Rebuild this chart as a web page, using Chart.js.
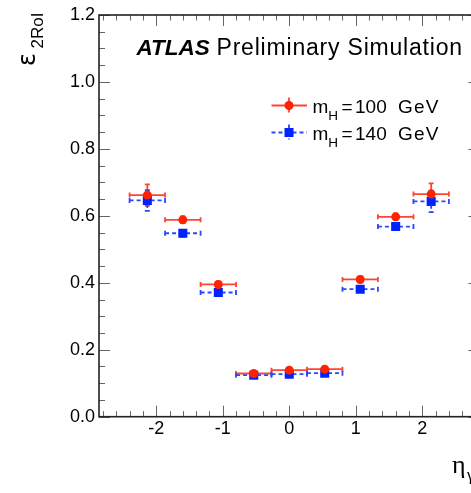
<!DOCTYPE html>
<html>
<head>
<meta charset="utf-8">
<script src="https://cdn.jsdelivr.net/npm/chart.js@4.4.1/dist/chart.umd.min.js"></script>
<style>
  html, body { margin: 0; padding: 0; background: #fff; overflow: hidden; }
  #wrap { position: absolute; left: 0; top: 0; width: 500px; height: 493px; }
</style>
</head>
<body>
<div id="wrap"><canvas id="effChart"></canvas></div>
<script>
// eta bins (edges) and trigger efficiencies
const etaEdges = [-2.4, -1.867, -1.333, -0.8, -0.267, 0.267, 0.8, 1.333, 1.867, 2.4];
const eff100 = [0.662, 0.588, 0.395, 0.129, 0.139, 0.142, 0.410, 0.597, 0.665];
const err100 = [0.032, 0.010, 0.009, 0.006, 0.006, 0.006, 0.009, 0.010, 0.032];
const eff140 = [0.646, 0.548, 0.371, 0.124, 0.127, 0.130, 0.381, 0.568, 0.643];
const err140 = [0.031, 0.010, 0.009, 0.006, 0.006, 0.006, 0.009, 0.010, 0.032];
const seriesNames = ['100 GeV', '140 GeV'];
const xTickValues = [-2, -1, 0, 1, 2];
const yTickValues = [0, 0.2, 0.4, 0.6, 0.8, 1.0, 1.2];

const FONT = '"Liberation Sans", Arial, sans-serif';
const RED = '#ff2200', RED_LINE = '#ff4433';
const BLUE = '#0022ff', BLUE_LINE = '#2a48ff';

const centers = etaEdges.slice(0, -1).map((e, i) => (e + etaEdges[i + 1]) / 2);
const toPoints = vals => vals.map((v, i) => ({ x: centers[i], y: v }));

// Fehlerbalken (ROOT-Stil) vor den Markern zeichnen
const errorBars = {
  id: 'errorBars',
  beforeDatasetsDraw(chart) {
    const ctx = chart.ctx;
    const xs = chart.scales.x, ys = chart.scales.y;
    const sets = [
      { vals: eff100, errs: err100, color: RED_LINE, dash: [] },
      { vals: eff140, errs: err140, color: BLUE_LINE, dash: [4, 3] }
    ];
    ctx.save();
    sets.forEach(s => {
      ctx.strokeStyle = s.color;
      ctx.lineWidth = 1.8;
      s.vals.forEach((v, i) => {
        const x0 = xs.getPixelForValue(etaEdges[i]);
        const x1 = xs.getPixelForValue(etaEdges[i + 1]);
        const xc = xs.getPixelForValue(centers[i]);
        const y = ys.getPixelForValue(v);
        const yHi = ys.getPixelForValue(v + s.errs[i]);
        const yLo = ys.getPixelForValue(v - s.errs[i]);
        ctx.setLineDash(s.dash);
        ctx.beginPath();
        ctx.moveTo(x0, y); ctx.lineTo(x1, y);
        ctx.moveTo(xc, yHi); ctx.lineTo(xc, yLo);
        ctx.stroke();
        ctx.setLineDash([]);
        ctx.beginPath();
        ctx.moveTo(x0, y - 2.5); ctx.lineTo(x0, y + 2.5);
        ctx.moveTo(x1, y - 2.5); ctx.lineTo(x1, y + 2.5);
        ctx.moveTo(xc - 2.5, yHi); ctx.lineTo(xc + 2.5, yHi);
        ctx.moveTo(xc - 2.5, yLo); ctx.lineTo(xc + 2.5, yLo);
        ctx.stroke();
      });
    });
    ctx.restore();
  }
};

// Rahmen, Ticks nach innen, Legende und Beschriftungen
const decorations = {
  id: 'decorations',
  afterDraw(chart) {
    const ctx = chart.ctx;
    const { left, right, top, bottom } = chart.chartArea;
    const xs = chart.scales.x, ys = chart.scales.y;
    ctx.save();

    ctx.strokeStyle = '#666';
    ctx.lineWidth = 1;
    ctx.beginPath();
    for (let i = -14; i <= 14; i++) {
      const px = Math.round(xs.getPixelForValue(i * 0.2)) + 0.5;
      const len = i % 5 === 0 ? 11 : 5.5;
      ctx.moveTo(px, bottom); ctx.lineTo(px, bottom - len);
      ctx.moveTo(px, top); ctx.lineTo(px, top + len);
    }
    for (let i = 0; i <= 24; i++) {
      const py = Math.round(ys.getPixelForValue(i * 0.05)) + 0.5;
      const len = i % 4 === 0 ? 11 : 6;
      ctx.moveTo(left, py); ctx.lineTo(left + len, py);
      ctx.moveTo(right, py); ctx.lineTo(right - len, py);
    }
    ctx.stroke();

    ctx.strokeStyle = '#222';
    ctx.lineWidth = 1.6;
    ctx.strokeRect(left, top, right - left, bottom - top);

    // Titel
    ctx.fillStyle = '#000';
    ctx.textBaseline = 'alphabetic';
    ctx.font = 'italic bold 22.5px ' + FONT;
    ctx.fillText('ATLAS', 136.5, 55);
    ctx.font = '23px ' + FONT;
    ctx.letterSpacing = '0.8px';
    ctx.fillText('Preliminary Simulation', 216.5, 55);
    ctx.letterSpacing = '0px';

    // Legende
    const rows = [
      { y: 105.5, color: RED, line: RED_LINE, dash: [], style: 'circle', name: seriesNames[0] },
      { y: 132.5, color: BLUE, line: BLUE_LINE, dash: [4, 3], style: 'rect', name: seriesNames[1] }
    ];
    rows.forEach(r => {
      ctx.strokeStyle = r.line;
      ctx.lineWidth = 1.8;
      ctx.setLineDash(r.dash);
      ctx.beginPath();
      ctx.moveTo(271.5, r.y); ctx.lineTo(307, r.y);
      ctx.moveTo(289, r.y - 8); ctx.lineTo(289, r.y + 7);
      ctx.stroke();
      ctx.setLineDash([]);
      ctx.fillStyle = r.color;
      ctx.beginPath();
      if (r.style === 'circle') ctx.arc(289, r.y, 4.5, 0, Math.PI * 2);
      else ctx.rect(284.5, r.y - 4.5, 9, 9);
      ctx.fill();

      const base = r.y + 7;
      ctx.fillStyle = '#000';
      ctx.font = '19px ' + FONT;
      ctx.fillText('m', 312.5, base);
      ctx.font = '13.5px ' + FONT;
      ctx.fillText('H', 328.3, base + 7.5);
      ctx.font = '19px ' + FONT;
      ctx.fillText('=', 341.5, base);
      const parts = r.name.split(' ');
      ctx.fillText(parts[0], 355, base);
      ctx.letterSpacing = '1.2px';
      ctx.fillText(parts[1], 398, base);
      ctx.letterSpacing = '0px';
    });

    // y-Achsentitel (gedreht)
    ctx.save();
    ctx.translate(35, 66);
    ctx.rotate(-Math.PI / 2);
    ctx.fillStyle = '#000';
    ctx.font = '24px "DejaVu Sans", sans-serif';
    ctx.fillText('ε', 0, 0);
    ctx.font = '17px ' + FONT;
    ctx.fillText('2RoI', 17.5, 7.7);
    ctx.restore();

    // x-Achsentitel
    ctx.font = '26px "Liberation Serif", serif';
    ctx.fillText('η', 452, 472.5);
    ctx.font = '16px "Liberation Serif", serif';
    ctx.fillText('γ', 467, 480);

    ctx.restore();
  }
};

const ctx = document.getElementById('effChart').getContext('2d');
const myChart = new Chart(ctx, {
  type: 'scatter',
  data: {
    datasets: [
      {
        label: 'm_H = ' + seriesNames[0],
        data: toPoints(eff100),
        pointStyle: 'circle',
        pointRadius: 4.5,
        pointBackgroundColor: RED,
        pointBorderWidth: 0,
        showLine: false
      },
      {
        label: 'm_H = ' + seriesNames[1],
        data: toPoints(eff140),
        pointStyle: 'rect',
        pointRadius: 6.4,
        pointBackgroundColor: BLUE,
        pointBorderWidth: 0,
        showLine: false
      }
    ]
  },
  options: {
    responsive: true,
    maintainAspectRatio: false,
    animation: false,
    events: [],
    layout: { padding: { top: 15, right: 20.5, left: 0, bottom: 0 } },
    plugins: {
      legend: { display: false },
      tooltip: { enabled: false }
    },
    scales: {
      x: {
        type: 'linear',
        min: -2.86,
        max: 2.86,
        grid: { display: false, drawTicks: false },
        border: { display: false },
        afterBuildTicks: s => { s.ticks = xTickValues.map(v => ({ value: v })); },
        afterFit: s => { s.height = 76.3; },
        ticks: {
          padding: 2,
          maxRotation: 0,
          color: '#000',
          font: { family: FONT, size: 18 },
          callback: v => String(v)
        }
      },
      y: {
        min: 0,
        max: 1.2,
        grid: { display: false, drawTicks: false },
        border: { display: false },
        afterBuildTicks: s => { s.ticks = yTickValues.map(v => ({ value: v })); },
        afterFit: s => { s.width = 99; },
        ticks: {
          padding: 4,
          color: '#000',
          font: { family: FONT, size: 18 },
          callback: v => v.toFixed(1)
        }
      }
    }
  },
  plugins: [errorBars, decorations]
});
</script>
</body>
</html>
